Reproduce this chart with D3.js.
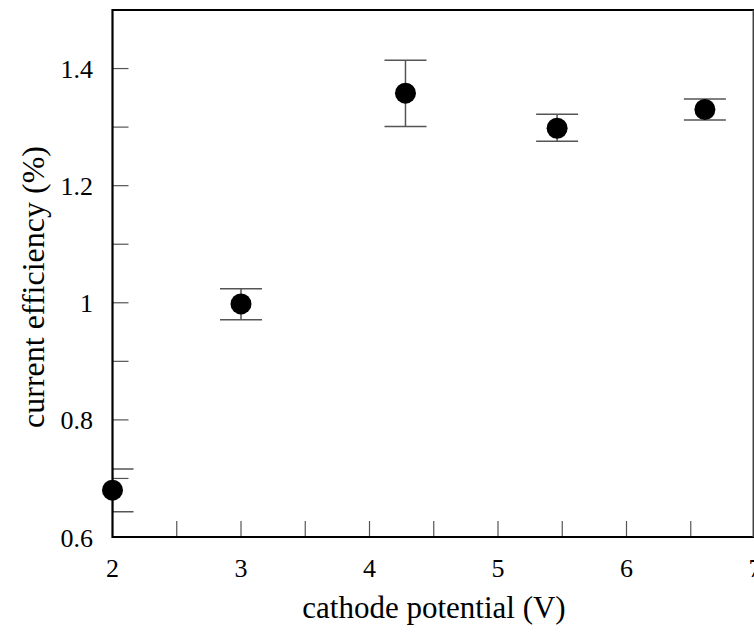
<!DOCTYPE html>
<html>
<head>
<meta charset="utf-8">
<script src="https://cdn.jsdelivr.net/npm/d3@7"></script>
<style>
  html, body { margin: 0; padding: 0; background: #fff; }
  svg text { font-family: "Liberation Serif", "Times New Roman", serif; fill: #000; }
</style>
</head>
<body>
<svg id="chart" width="754" height="633"></svg>
<script>
// Measured current efficiency at each cathode potential
const potential = [2.0, 3.0, 4.28, 5.46, 6.61];
const efficiency = [0.68, 0.998, 1.358, 1.298, 1.330];
const errLow = [0.643, 0.971, 1.301, 1.276, 1.312];
const errHigh = [0.716, 1.024, 1.414, 1.322, 1.348];

const xTicks = [2, 3, 4, 5, 6, 7];
const xMinor = [2.5, 3.5, 4.5, 5.5, 6.5];
const yTicks = [0.6, 0.8, 1.0, 1.2, 1.4];
const yMinor = [0.7, 0.9, 1.1, 1.3, 1.5];

const svg = d3.select("#chart");
const m = { left: 112.5, right: 754, top: 10, bottom: 537 };

const x = d3.scaleLinear().domain([2, 7]).range([m.left, m.left + 5 * 128.5]);
const y = d3.scaleLinear().domain([0.6, 1.5]).range([m.bottom, m.top]);

const tickLen = 16;

// plot area clip for error bar caps
svg.append("defs").append("clipPath").attr("id", "plotClip")
  .append("rect")
  .attr("x", m.left).attr("y", m.top)
  .attr("width", m.right - m.left).attr("height", m.bottom - m.top);

// x axis ticks (inward) and labels
const xAxis = svg.append("g");
xAxis.selectAll("line").data(xTicks.filter(d => d > 2 && d < 7).concat(xMinor)).join("line")
  .attr("x1", d => x(d)).attr("x2", d => x(d))
  .attr("y1", m.bottom).attr("y2", m.bottom - tickLen)
  .attr("stroke", "#555").attr("stroke-width", 1.2);
xAxis.selectAll("text").data(xTicks).join("text")
  .attr("x", d => x(d)).attr("y", 577)
  .attr("text-anchor", "middle")
  .attr("font-size", 26)
  .text(d => d3.format("d")(d));

// y axis ticks (inward) and labels
const yAxis = svg.append("g");
yAxis.selectAll("line").data(yTicks.concat(yMinor).filter(d => d > 0.6 && d < 1.5)).join("line")
  .attr("x1", m.left).attr("x2", m.left + tickLen)
  .attr("y1", d => y(d)).attr("y2", d => y(d))
  .attr("stroke", "#555").attr("stroke-width", 1.2);
yAxis.selectAll("text").data(yTicks).join("text")
  .attr("x", 93).attr("y", d => y(d) + 9.5)
  .attr("text-anchor", "end")
  .attr("font-size", 26)
  .text(d => d === 1 ? "1" : d3.format(".1f")(d));

// error bars
const bars = svg.append("g").attr("clip-path", "url(#plotClip)");
const idx = d3.range(potential.length);
const capHalf = 21;
bars.selectAll("line.stem").data(idx).join("line")
  .attr("class", "stem")
  .attr("x1", i => x(potential[i])).attr("x2", i => x(potential[i]))
  .attr("y1", i => y(errLow[i])).attr("y2", i => y(errHigh[i]))
  .attr("stroke", "#555").attr("stroke-width", 1.5);
bars.selectAll("line.capHi").data(idx).join("line")
  .attr("class", "capHi")
  .attr("x1", i => x(potential[i]) - capHalf).attr("x2", i => x(potential[i]) + capHalf)
  .attr("y1", i => y(errHigh[i])).attr("y2", i => y(errHigh[i]))
  .attr("stroke", "#555").attr("stroke-width", 1.5);
bars.selectAll("line.capLo").data(idx).join("line")
  .attr("class", "capLo")
  .attr("x1", i => x(potential[i]) - capHalf).attr("x2", i => x(potential[i]) + capHalf)
  .attr("y1", i => y(errLow[i])).attr("y2", i => y(errLow[i]))
  .attr("stroke", "#555").attr("stroke-width", 1.5);

// frame
svg.append("path")
  .attr("d", `M${m.left},${m.bottom}V${m.top}H${m.right}V${m.bottom}Z`)
  .attr("fill", "none").attr("stroke", "#000").attr("stroke-width", 2.2);
svg.append("line")
  .attr("x1", m.right - 0.7).attr("x2", m.right - 0.7)
  .attr("y1", m.top).attr("y2", m.bottom)
  .attr("stroke", "#444").attr("stroke-width", 1.4);

// data points
svg.append("g").selectAll("circle").data(idx).join("circle")
  .attr("cx", i => x(potential[i])).attr("cy", i => y(efficiency[i]))
  .attr("r", 10.5).attr("fill", "#000");

// axis titles
svg.append("text")
  .attr("x", 434).attr("y", 618)
  .attr("text-anchor", "middle")
  .attr("font-size", 31)
  .text("cathode potential (V)");
svg.append("text")
  .attr("transform", "translate(44,287) rotate(-90)")
  .attr("text-anchor", "middle")
  .attr("font-size", 32)
  .text("current efficiency (%)");
</script>
</body>
</html>
